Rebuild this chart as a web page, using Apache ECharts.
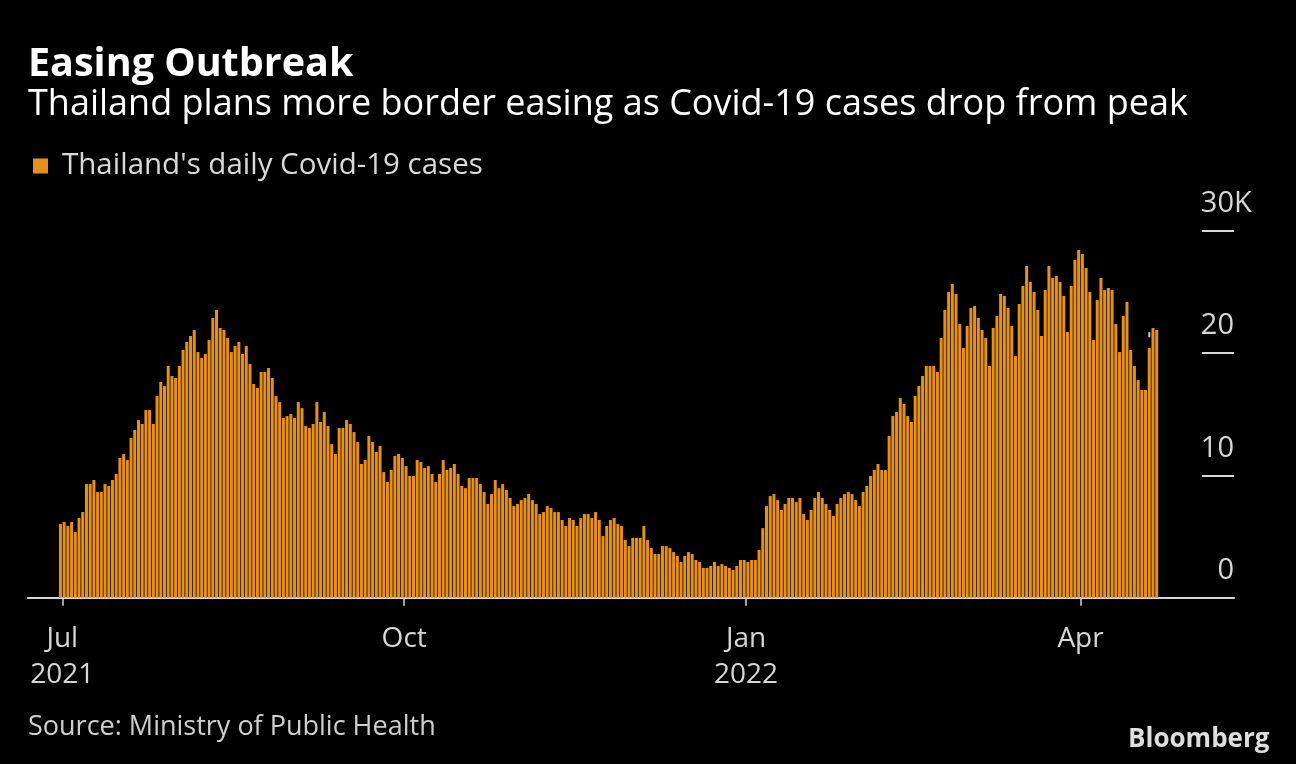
<!DOCTYPE html>
<html>
<head>
<meta charset="utf-8">
<script src="https://cdn.jsdelivr.net/npm/echarts@6/dist/echarts.min.js"></script>
<style>
html,body{margin:0;padding:0;background:#000;}
#c{width:1296px;height:764px;}
</style>
</head>
<body>
<div id="c"></div>
<script>
// ---- DATA ----
const titleText = 'Easing Outbreak';
const subtitleText = 'Thailand plans more border easing as Covid-19 cases drop from peak';
const seriesName = "Thailand's daily Covid-19 cases";
const sourceText = 'Source: Ministry of Public Health';
const firstDate = '2021-06-30';
const dailyCases = [
  6020, 6190, 5860, 6190, 5370, 6510, 7000, 9290, 9290, 9620, 8640, 8640, 9290, 9130, 9620, 10110, 11420, 11740, 11250, 13050, 13710, 14520, 14200, 15340, 15340, 14200, 16490,
  17630, 17300, 18940, 18120, 17960, 18940, 20250, 20900, 21390, 21880, 20080, 19590, 19920, 21060, 22860, 23510, 22040, 21880, 21230, 20080, 20570, 20900, 19920, 20570, 19100, 17470, 17140,
  18450, 18450, 18770, 17960, 16490, 15990, 14690, 14850, 15010, 14690, 15990, 15500, 14030, 13870, 14200, 15990, 14360, 15180, 14030, 12560, 11740, 13870, 13870, 14520, 14200, 13540, 12720,
  10930, 11250, 13220, 12720, 11910, 12400, 10270, 9460, 10440, 11580, 11740, 11420, 10760, 9950, 9950, 11250, 11090, 10600, 10760, 10110, 9460, 10110, 11250, 10440, 10600, 10930, 10110,
  9130, 8960, 9780, 9780, 9780, 9290, 8640, 7660, 8470, 9620, 8960, 9290, 8800, 8150, 7490, 7660, 7980, 8150, 8470, 7980, 7660, 6840, 7000, 7490, 7330, 7000, 7000,
  6350, 5860, 6510, 6350, 5860, 6510, 6840, 6840, 6510, 7000, 6350, 5040, 5860, 6350, 6510, 6020, 5860, 4710, 4220, 4880, 4880, 4880, 5860, 4710, 4060, 3570, 3570,
  4220, 4220, 4060, 3730, 3410, 2920, 3410, 3730, 3570, 3080, 2920, 2430, 2430, 2590, 2920, 2590, 2750, 2590, 2430, 2260, 2590, 3080, 3080, 2920, 3080, 3080, 3900,
  5690, 7490, 8310, 8470, 7980, 7170, 7660, 8150, 8150, 7820, 8150, 6840, 6350, 7170, 8150, 8640, 8150, 7660, 7170, 6680, 7660, 8150, 8470, 8640, 8470, 7980, 7490, 8640,
  9130, 9950, 10440, 10930, 10440, 10440, 13220, 14850, 15180, 16320, 15830, 14850, 14360, 16490, 17300, 18120, 18940, 18940, 18940, 18450, 21230, 23510, 24990, 25640, 24820, 22370, 20410,
  22210, 23680, 23840, 22860, 21880, 21230, 18940, 22040, 23020, 24820, 24660, 23680, 22210, 19750, 24010, 25480, 27110, 25800, 24990, 23510, 21390, 25150, 27110, 26130, 26290, 25800, 24660,
  21720, 25480, 27600, 28420, 28090, 26950, 24990, 21060, 24330, 26130, 25150, 25310, 25150, 22370, 20080, 23020, 24170, 20250, 18940, 17790, 16980, 16980, 20410, 22040, 21880
];
// small white marker seen above one of the last bars
const markerDate = '2022-04-19';
const markerValue = 21500;
const xTickDates = ['2021-07-01', '2021-10-01', '2022-01-01', '2022-04-01'];
const xTickLabels = ['Jul\n2021', 'Oct', 'Jan\n2022', 'Apr'];
const yTickValues = [0, 10000, 20000, 30000];
const yTickLabels = ['0', '10', '20', '30'];
const yUnitLabel = 'K';
const xRange = ['2021-06-21T18:28:00Z', '2022-05-12T07:12:00Z'];

// ---- BUILD ----
const DAY = 86400000;
const t0 = Date.parse(firstDate + 'T12:00:00Z');
const barData = dailyCases.map((v, i) => [t0 + i * DAY, v]);
const tickTimes = xTickDates.map(d => Date.parse(d + 'T00:00:00Z'));
const markerData = [[Date.parse(markerDate + 'T12:00:00Z'), markerValue]];

const FONT = 'Open Sans';
const AXIS_COLOR = '#d6d6d6';
const BAR_COLOR = '#E8901E';
const GRID_LEFT = 28, GRID_RIGHT = 62;

const yLabelStyle = {
  margin: 0,
  verticalAlign: 'bottom',
  lineHeight: 30,
  padding: [0, 0, 12, 0],
  color: AXIS_COLOR, fontSize: 29, fontFamily: FONT
};

const chart = echarts.init(document.getElementById('c'), null, {renderer: 'canvas', width: 1296, height: 764});
chart.setOption({
  backgroundColor: '#000000',
  animation: false,
  textStyle: {fontFamily: FONT},
  title: [
    {text: titleText, left: 28, top: 45, padding: 0,
     textStyle: {color: '#ffffff', fontSize: 39.5, fontWeight: 'bold', fontFamily: FONT, lineHeight: 39.5}},
    {text: subtitleText, left: 28, top: 87, padding: 0,
     textStyle: {color: '#ffffff', fontSize: 36, fontWeight: 'normal', fontFamily: FONT, lineHeight: 36}},
    {text: sourceText, left: 28, top: 714, padding: 0,
     textStyle: {color: '#cfcfcf', fontSize: 27, fontWeight: 'normal', fontFamily: FONT, lineHeight: 27}},
    {text: 'Bloomberg', left: 1128, top: 727, padding: 0,
     textStyle: {color: '#dedede', fontSize: 26, fontWeight: 'bold', fontFamily: FONT, lineHeight: 26}}
  ],
  legend: {
    data: [seriesName],
    left: 33, top: 149, padding: 0,
    icon: 'rect',
    itemWidth: 15, itemHeight: 15,
    textStyle: {color: '#d9d9d9', fontSize: 29.5, fontFamily: FONT, lineHeight: 30, padding: [4, 0, 0, 9]}
  },
  grid: {left: GRID_LEFT, right: GRID_RIGHT, top: 230.7, bottom: 166.3},
  xAxis: {
    type: 'value',
    min: Date.parse(xRange[0]),
    max: Date.parse(xRange[1]),
    axisLine: {show: true, onZero: false, lineStyle: {color: AXIS_COLOR, width: 2}},
    axisTick: {show: true, customValues: tickTimes, length: 8, lineStyle: {color: AXIS_COLOR, width: 1.5}},
    axisLabel: {
      customValues: tickTimes,
      formatter: function (v) {
        for (let i = 0; i < tickTimes.length; i++) {
          if (Math.abs(v - tickTimes[i]) < DAY / 2) return xTickLabels[i];
        }
        return '';
      },
      color: AXIS_COLOR, fontSize: 28, lineHeight: 36, margin: 23, fontFamily: FONT
    },
    splitLine: {show: false}
  },
  yAxis: [{
    type: 'value',
    position: 'right',
    min: 0, max: 30000, interval: 10000,
    axisLine: {show: false},
    splitLine: {show: false},
    axisTick: {show: true, inside: true, length: 32, lineStyle: {color: AXIS_COLOR, width: 2}},
    axisLabel: Object.assign({
      inside: true,
      formatter: function (v) {
        const i = yTickValues.indexOf(v);
        return i >= 0 ? yTickLabels[i] : '';
      }
    }, yLabelStyle)
  }, {
    // unit suffix that hangs to the right of the top label
    type: 'value',
    position: 'left',
    offset: -(1296 - GRID_LEFT - GRID_RIGHT),
    min: 0, max: 30000, interval: 10000,
    axisLine: {show: false},
    splitLine: {show: false},
    axisTick: {show: false},
    axisLabel: Object.assign({
      inside: true,
      formatter: function (v) {
        return v === yTickValues[yTickValues.length - 1] ? yUnitLabel : '';
      }
    }, yLabelStyle)
  }],
  series: [{
    name: seriesName,
    type: 'bar',
    data: barData,
    barWidth: 3,
    itemStyle: {color: BAR_COLOR},
    emphasis: {disabled: true}
  }, {
    name: 'marker',
    type: 'scatter',
    data: markerData,
    symbol: 'rect',
    symbolSize: [2, 5],
    itemStyle: {color: '#ffffff'},
    silent: true,
    z: 5
  }]
});
</script>
</body>
</html>
